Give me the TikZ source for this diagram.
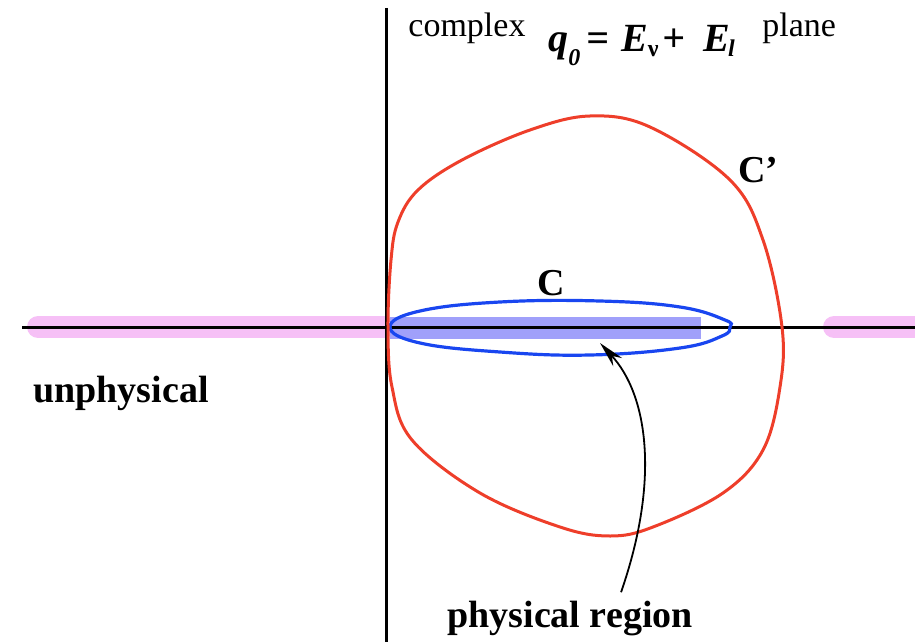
\documentclass[tikz,border=0pt]{standalone}
\usepackage{fontspec}
\setmainfont{Liberation Serif}
\usepackage{xcolor}
\usepackage{tikz}
\usetikzlibrary{arrows.meta,positioning,calc}
\definecolor{CutPink}{RGB}{246,192,246}
\definecolor{PhysBlue}{RGB}{160,160,250}
\definecolor{LoopBlue}{RGB}{25,70,240}
\definecolor{LoopRed}{RGB}{238,62,42}

\begin{document}
\begin{tikzpicture}[
  x=0.5pt,y=-0.5pt,
  axis/.style={line width=1.5pt,black},
  cutband/.style={line width=11pt,CutPink,line cap=round},
  physband/.style={fill=PhysBlue,draw=none},
  loopc/.style={line width=1.6pt,LoopBlue},
  loopcp/.style={line width=1.5pt,LoopRed},
  lbl/.style={inner sep=0pt,anchor=base west,font=\fontsize{19}{22}\selectfont\bfseries},
  small/.style={inner sep=0pt,anchor=base west,font=\fontsize{17}{20}\selectfont},
  arr/.style={-{Stealth[length=13pt,width=6pt]},line width=0.9pt,black}
]
\useasboundingbox (0,0) rectangle (915,642);

% cuts on the real axis
\draw[cutband] (38,327) -- (384,327);
\draw[cutband] (834,327) -- (930,327);
\fill[physband] (390,317) rectangle (701,339);

% axes
\coordinate (xl) at (22,327);
\coordinate (xr) at (915,327);
\coordinate (yt) at (386,8);
\coordinate (yb) at (386,642);
\draw[axis] (xl) -- (xr);
\draw[axis] (yt) -- (yb);

% contours
\draw[loopc] plot[smooth cycle,tension=0.7] coordinates {
  (390,327) (420,311) (500,302) (600,301) (680,307) (725,320) (730,327)
  (722,336) (680,348) (590,355) (500,352) (420,343)};
\draw[loopcp] plot[smooth cycle,tension=0.6] coordinates {
  (388,327) (391,260) (398,222) (418,190) (462,160) (530,130) (590,116)
  (650,127) (730,180) (763,240) (782,327) (780,387) (763,450) (723,493)
  (653,527) (610,536) (560,527) (480,493) (412,440) (392,387)};

% labels
\node[small] (cx) at (408,37) {complex};
\node[inner sep=0pt,anchor=base west,font=\fontsize{20}{22}\selectfont\bfseries\itshape] (eq) at (548,52)
  {q\raisebox{-7pt}{\fontsize{12}{13}\selectfont 0}\kern3pt=\kern6pt E\raisebox{-2.5pt}{\fontsize{12}{13}\selectfont\upshape ν}\kern2pt+\kern9pt E\kern-1pt\raisebox{-2.5pt}{\fontsize{12}{13}\selectfont l}};
\node[small] (pl) at (762,37) {plane};
\node[lbl] (c) at (537,295) {C};
\node[lbl] (cp) at (738,182) {C’};
\node[lbl] (unph) at (33,402) {unphysical};
\node[lbl] (phys) at (447,627) {physical region};

% pointer to physical region
\coordinate (tip) at (600,343);
\draw[arr] ($(phys.north)+(51,-8)$) .. controls (660,480) and (648,395) .. (tip);
\end{tikzpicture}
\end{document}
